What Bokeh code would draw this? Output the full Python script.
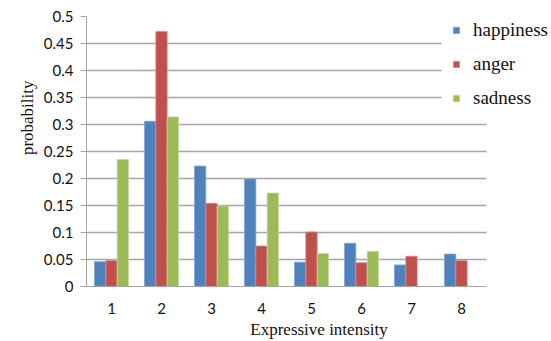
from bokeh.plotting import figure
from bokeh.models import (ColumnDataSource, Legend, LegendItem, FixedTicker, Range1d,
                          Grid, Title)
from bokeh.transform import dodge
from bokeh.embed import file_html
from bokeh.resources import INLINE

# Probability of each expressive-intensity level per emotion
intensity = [1, 2, 3, 4, 5, 6, 7, 8]
happiness = [0.046, 0.306, 0.223, 0.199, 0.045, 0.080, 0.040, 0.060]
anger = [0.048, 0.472, 0.154, 0.075, 0.101, 0.044, 0.056, 0.048]
sadness = [0.235, 0.314, 0.149, 0.173, 0.061, 0.065, 0.0, 0.0]
y_ticks = [0, 0.05, 0.1, 0.15, 0.2, 0.25, 0.3, 0.35, 0.4, 0.45, 0.5]

source = ColumnDataSource(dict(x=intensity, happiness=happiness, anger=anger, sadness=sadness))

SERIF = "Times New Roman"
SANS = "Lato"

# the frame runs past the last category so the legend can sit over the grid's right end
x_lo, x_hi = intensity[0] - 0.5, intensity[-1] + 0.5
p = figure(
    width=551, height=341,
    x_range=Range1d(x_lo, x_hi + 1.3),
    y_range=Range1d(0, 0.5),
    output_backend="svg", toolbar_location=None,
    min_border_left=86, min_border_right=0, min_border_top=16, min_border_bottom=55,
)
p.outline_line_color = None
p.background_fill_color = "white"
p.border_fill_color = "white"

bw = 0.227
series = [
    ("happiness", "#4F81BD", "#80a4d1", -bw),
    ("anger", "#C0504D", "#d88b89", 0.0),
    ("sadness", "#9BBB59", "#c3d79c", bw),
]
renderers = []
for name, color, edge, off in series:
    r = p.vbar(x=dodge("x", off), top=name, width=bw, source=source,
               fill_color=color, line_color=edge, line_width=0.8)
    renderers.append((name, r))

# horizontal grid: lower lines span the full category area, upper ones stop at the legend
p.xgrid.grid_line_color = None
p.ygrid.grid_line_color = None
grid_style = dict(grid_line_color="#a6a6a6", grid_line_width=1.3)
p.add_layout(Grid(dimension=1, ticker=FixedTicker(ticks=[t for t in y_ticks if t <= 0.3]),
                  cross_bounds=(x_lo, x_hi), **grid_style))
p.add_layout(Grid(dimension=1, ticker=FixedTicker(ticks=[t for t in y_ticks if t > 0.3]),
                  cross_bounds=(x_lo, x_hi - 0.9), **grid_style))

# y axis
p.yaxis.ticker = FixedTicker(ticks=y_ticks)
p.yaxis.major_label_overrides = {t: f"{t:g}" for t in y_ticks}
p.yaxis.axis_line_color = "#a6a6a6"
p.yaxis.major_tick_line_color = "#a6a6a6"
p.yaxis.major_tick_out = 6
p.yaxis.major_tick_in = 0
p.yaxis.minor_tick_line_color = None
p.yaxis.major_label_text_font = SANS
p.yaxis.major_label_text_font_size = "15px"
p.yaxis.major_label_text_color = "#111111"
p.yaxis.major_label_standoff = 7

# x axis
p.xaxis.ticker = FixedTicker(ticks=intensity)
p.xaxis.bounds = (x_lo - 0.12, x_hi)
p.xaxis.axis_line_color = "#a6a6a6"
p.xaxis.major_tick_line_color = None
p.xaxis.minor_tick_line_color = None
p.xaxis.major_label_text_font = SANS
p.xaxis.major_label_text_font_size = "15px"
p.xaxis.major_label_text_color = "#111111"
p.xaxis.major_label_standoff = 10
p.xaxis.axis_label = "Expressive intensity"
p.xaxis.axis_label_text_font = SERIF
p.xaxis.axis_label_text_font_size = "17px"
p.xaxis.axis_label_text_font_style = "normal"
p.xaxis.axis_label_text_color = "#111111"
p.xaxis.axis_label_standoff = 3

# y axis title
p.add_layout(Title(text="probability", align="right", offset=64,
                   text_font=SERIF, text_font_size="17px",
                   text_font_style="normal", text_color="#111111", standoff=8), "left")

legend = Legend(
    items=[LegendItem(label=n, renderers=[r]) for n, r in renderers],
    location=(366, 177),
    glyph_width=8, glyph_height=8, label_standoff=13,
    label_text_font=SERIF, label_text_font_size="19px",
    label_text_color="#111111", label_height=20, spacing=12,
    padding=8, margin=0, border_line_color=None,
    background_fill_color="white", background_fill_alpha=1.0,
)
p.add_layout(legend, "center")

open("out.html", "w").write(file_html(p, INLINE))
